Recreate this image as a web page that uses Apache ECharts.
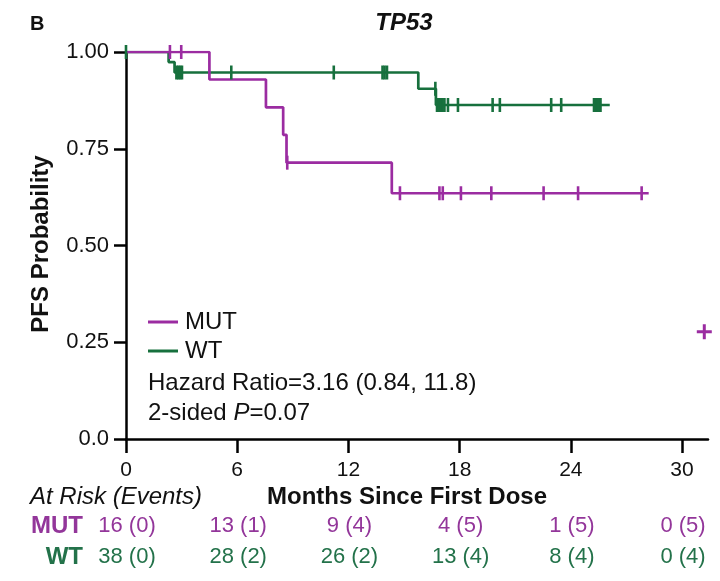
<!DOCTYPE html>
<html><head><meta charset="utf-8">
<script src="https://cdn.jsdelivr.net/npm/echarts@6/dist/echarts.min.js"></script>
<style>html,body{margin:0;padding:0;background:#fff}#c{width:720px;height:581px}</style>
</head><body><div id="c"></div><script>
// ---- data ----
const mutStepTimes = [0, 4.5, 7.55, 8.48, 8.66, 14.34, 28.2];
const mutStepSurv  = [1.0, 0.929, 0.857, 0.786, 0.714, 0.635, 0.635];
const mutCensorTimes = [2.37, 2.98, 8.7, 14.78, 16.91, 17.09, 18.07, 19.71, 22.53, 24.39, 27.82];
const mutCensorSurv  = [1.0, 1.0, 0.714, 0.635, 0.635, 0.635, 0.635, 0.635, 0.635, 0.635, 0.635];
const wtStepTimes = [0, 2.3, 2.62, 15.77, 16.72, 26.1];
const wtStepSurv  = [1.0, 0.974, 0.947, 0.905, 0.863, 0.863];
const wtCensorTimes = [0, 2.72, 2.82, 2.92, 3.02, 5.68, 11.21, 13.84, 13.95, 14.08, 16.69, 16.78, 16.88, 16.98, 17.08, 17.18, 17.37, 17.91, 19.78, 20.17, 22.94, 23.48, 25.25, 25.32, 25.39, 25.46, 25.53, 25.6];
const wtCensorSurv  = [1.0, 0.947, 0.947, 0.947, 0.947, 0.947, 0.947, 0.947, 0.947, 0.947, 0.905, 0.863, 0.863, 0.863, 0.863, 0.863, 0.863, 0.863, 0.863, 0.863, 0.863, 0.863, 0.863, 0.863, 0.863, 0.863, 0.863, 0.863];
const strayTimes = [31.2];
const strayProb  = [0.277];
const xTicks = [0, 6, 12, 18, 24, 30];
const yTicks = [0, 0.25, 0.5, 0.75, 1.0];
const yTickLabels = ['0.0', '0.25', '0.50', '0.75', '1.00'];
const riskTimes = [0, 6, 12, 18, 24, 30];
const mutRisk = ['16 (0)', '13 (1)', '9 (4)', '4 (5)', '1 (5)', '0 (5)'];
const wtRisk  = ['38 (0)', '28 (2)', '26 (2)', '13 (4)', '8 (4)', '0 (4)'];
const groupNames = ['MUT', 'WT'];

const PURPLE = '#9B2CA1', GREEN = '#17703D';
const PURPLE_T = '#93369A', GREEN_T = '#23724A';
const FONT = '"Liberation Sans", Arial, Helvetica, sans-serif';

const zip = (a, b) => a.map((v, i) => [v, b[i]]);
const plus = 'path://M4,0h2v4h4v2h-4v4h-2v-4h-4v-2h4z';

const chart = echarts.init(document.getElementById('c'), null, {renderer: 'canvas'});
const option = {
  animation: false,
  backgroundColor: '#fff',
  textStyle: {fontFamily: FONT},
  grid: {left: 126, right: 12, top: 52, bottom: 142},
  xAxis: {
    type: 'value', min: 0, max: 31.4, interval: 6,
    axisLine: {show: true, lineStyle: {color: '#000', width: 2.5}},
    axisTick: {show: true, length: 14, lineStyle: {color: '#000', width: 2.5}, customValues: xTicks},
    axisLabel: {color: '#111', fontSize: 21, fontFamily: FONT, margin: 21, customValues: xTicks},
    splitLine: {show: false}
  },
  yAxis: {
    type: 'value', min: 0, max: 1, interval: 0.25,
    axisLine: {show: true, lineStyle: {color: '#000', width: 2.5}},
    axisTick: {show: true, length: 12, lineStyle: {color: '#000', width: 2.5}},
    axisLabel: {color: '#111', fontSize: 22, fontFamily: FONT, margin: 17,
      formatter: v => { const i = yTicks.indexOf(Math.round(v * 100) / 100); return i >= 0 ? yTickLabels[i] : ''; }},
    splitLine: {show: false}
  },
  legend: {
    orient: 'vertical', left: 143, top: 305, itemWidth: 30, itemHeight: 3, itemGap: 5,
    data: [{name: 'MUT', icon: 'rect'}, {name: 'WT', icon: 'rect'}],
    textStyle: {fontSize: 24, color: '#111', fontFamily: FONT, padding: [0, 0, 0, 2]}
  },
  series: [
    {name: 'WT', type: 'line', step: 'end', symbol: 'none', data: zip(wtStepTimes, wtStepSurv),
      lineStyle: {color: GREEN, width: 2.7}, itemStyle: {color: GREEN}, z: 2},
    {name: 'MUT', type: 'line', step: 'end', symbol: 'none', data: zip(mutStepTimes, mutStepSurv),
      lineStyle: {color: PURPLE, width: 2.7}, itemStyle: {color: PURPLE}, z: 3},
    {name: 'WT censored', type: 'scatter', symbol: 'rect', symbolSize: [2.6, 14],
      data: zip(wtCensorTimes, wtCensorSurv), itemStyle: {color: GREEN, opacity: 1}, z: 4, silent: true},
    {name: 'MUT censored', type: 'scatter', symbol: 'rect', symbolSize: [2.6, 14],
      data: zip(mutCensorTimes, mutCensorSurv), itemStyle: {color: PURPLE, opacity: 1}, z: 5, silent: true},
    {name: 'stray', type: 'scatter', symbol: plus, symbolSize: 15, clip: false,
      data: zip(strayTimes, strayProb), itemStyle: {color: PURPLE, opacity: 1}, z: 5, silent: true}
  ]
};
chart.setOption(option);

const gx = t => chart.convertToPixel({xAxisIndex: 0}, t);
const txt = (x, y, text, o) => Object.assign({type: 'text', x, y, silent: true,
  style: Object.assign({text, fill: '#111', fontSize: 20, fontFamily: FONT, verticalAlign: 'middle', align: 'left'}, o || {})});

const graphics = [
  txt(30, 24, 'B', {fontSize: 20, fontWeight: 'bold'}),
  txt(404, 23, 'TP53', {fontSize: 24, fontWeight: 'bold', fontStyle: 'italic', align: 'center'}),
  Object.assign(txt(41, 244, 'PFS Probability', {fontSize: 24, fontWeight: 'bold', align: 'center'}), {rotation: Math.PI / 2}),
  txt(148, 383, 'Hazard Ratio=3.16 (0.84, 11.8)', {fontSize: 24}),
  {type: 'text', x: 148, y: 413, silent: true, style: {
    text: '{a|2-sided }{b|P}{a|=0.07}', verticalAlign: 'middle',
    rich: {a: {fontSize: 24, fontFamily: FONT, fill: '#111'}, b: {fontSize: 24, fontFamily: FONT, fontStyle: 'italic', fill: '#111'}}}},
  txt(30, 497, 'At Risk (Events)', {fontSize: 24, fontStyle: 'italic'}),
  txt(407, 497, 'Months Since First Dose', {fontSize: 24, fontWeight: 'bold', align: 'center'}),
  txt(83, 526, groupNames[0], {fontSize: 24, fontWeight: 'bold', fill: PURPLE_T, align: 'right'}),
  txt(83, 557, groupNames[1], {fontSize: 24, fontWeight: 'bold', fill: GREEN_T, align: 'right'})
];
riskTimes.forEach((t, i) => {
  graphics.push(txt(gx(t) + 1, 526, mutRisk[i], {fontSize: 22, fill: PURPLE_T, align: 'center'}));
  graphics.push(txt(gx(t) + 1, 557, wtRisk[i], {fontSize: 22, fill: GREEN_T, align: 'center'}));
});
chart.setOption({graphic: graphics});
</script></body></html>
